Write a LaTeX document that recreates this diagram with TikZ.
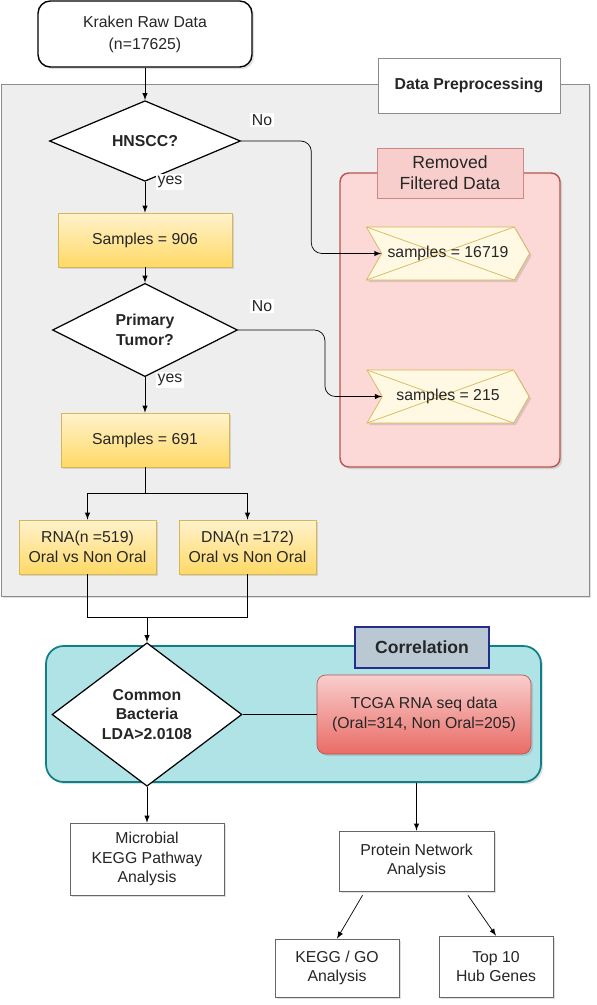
\documentclass[tikz,border=0pt]{standalone}
\usepackage{fontspec}
\setmainfont{Liberation Sans}
\usepackage{tikz}
\usetikzlibrary{shapes.geometric}
\usetikzlibrary{shapes.symbols}
\usetikzlibrary{shadows}
\usetikzlibrary{arrows}
\definecolor{Pre-fill}{RGB}{238,238,238}
\definecolor{Pre-line}{RGB}{140,140,140}
\definecolor{Yel-top}{RGB}{255,242,204}
\definecolor{Yel-bot}{RGB}{255,217,102}
\definecolor{Yel-line}{RGB}{214,182,86}
\definecolor{Cream}{RGB}{255,249,228}
\definecolor{Red-fill}{RGB}{252,216,214}
\definecolor{Red-top}{RGB}{248,206,204}
\definecolor{Red-bot}{RGB}{234,107,102}
\definecolor{Red-line}{RGB}{184,84,80}
\definecolor{Teal-fill}{RGB}{176,227,230}
\definecolor{Teal-line}{RGB}{14,128,136}
\definecolor{Slate-fill}{RGB}{186,200,211}
\definecolor{Navy-line}{RGB}{35,45,140}
\tikzset{ txt/.style      ={font=\fontsize{9}{11}\selectfont, text=black!85, align=center} }
\tikzset{ soft/.style     ={drop shadow={shadow xshift=1.2pt, shadow yshift=-1.2pt, opacity=0.25}} }
\tikzset{ start/.style    ={draw=black, rounded corners=7pt, line width=0.8pt, fill=white, txt, font=\fontsize{9}{12.5}\selectfont, soft} }
\tikzset{ decide/.style   ={draw=black, diamond, line width=0.7pt, fill=white, inner sep=0.5pt, txt, font=\fontsize{9}{11}\selectfont\bfseries} }
\tikzset{ smp/.style      ={draw=Yel-line, top color=Yel-top, bottom color=Yel-bot, minimum height=1.08cm, txt, soft} }
\tikzset{ cut/.style      ={draw=Yel-line, signal, signal to=east, signal from=west, signal pointer angle=120, fill=Cream, minimum width=3.24cm, minimum height=1.06cm, txt, soft,
                            path picture={\draw[Yel-line] (path picture bounding box.north west) -- ([xshift=-0.31cm]path picture bounding box.south east);
                                          \draw[Yel-line] ([xshift=-0.31cm]path picture bounding box.north east) -- (path picture bounding box.south west);}} }
\tikzset{ result/.style   ={draw=black!60, fill=white, txt, soft} }
\tikzset{ tag/.style      ={fill=white, inner sep=1pt, txt} }
\tikzset{ pre_box/.style  ={draw=Pre-line, fill=Pre-fill, soft} }
\tikzset{ pre_tag/.style  ={draw=Pre-line, fill=white, txt, font=\fontsize{9}{11}\selectfont\bfseries} }
\tikzset{ rm_box/.style   ={draw=Red-line, fill=Red-fill, line width=0.8pt, rounded corners=5pt, soft} }
\tikzset{ rm_tag/.style   ={draw=Red-line!70, fill=Red-top, txt, font=\fontsize{10}{12}\selectfont} }
\tikzset{ cor_box/.style  ={draw=Teal-line, fill=Teal-fill, line width=1pt, rounded corners=10pt, soft} }
\tikzset{ cor_tag/.style  ={draw=Navy-line, fill=Slate-fill, line width=0.8pt, txt, font=\fontsize{10}{12}\selectfont\bfseries} }
\tikzset{ seq/.style      ={draw=Red-line, top color=Red-top, bottom color=Red-bot, rounded corners=5pt, txt, soft} }

\begin{document}
\begin{tikzpicture}[x=0.02cm, y=-0.02cm]
    \useasboundingbox (0,0) rectangle (597,1005);

    % groups
    \node[pre_box, minimum width=11.76cm, minimum height=10.24cm] (pre)     at (295, 340) {};
    \node[pre_tag, minimum width=3.64cm,  minimum height=1.10cm ] (pre_t)   at (469, 85.5) {Data Preprocessing};
    \node[rm_box,  minimum width=4.40cm,  minimum height=5.88cm ] (rm)      at (450, 320) {};
    \node[rm_tag,  minimum width=2.92cm,  minimum height=1.00cm ] (rm_t)    at (450, 173) {Removed\\Filtered Data};
    \node[cor_box, minimum width=9.90cm,  minimum height=2.72cm ] (cor)     at (293.5, 714) {};
    \node[cor_tag, minimum width=2.68cm,  minimum height=0.82cm ] (cor_t)   at (422, 647.5) {Correlation};

    % preprocessing
    \node[start,  minimum width=4.28cm, minimum height=1.32cm] (raw)     at (145, 34)  {Kraken Raw Data\\(n=17625)};
    \node[decide, minimum width=3.82cm, minimum height=1.24cm] (hnscc)   at (145, 141) {HNSCC?};
    \node[smp,    minimum width=3.48cm                       ] (smp_906) at (145, 240) {Samples = 906};
    \node[decide, minimum width=3.70cm, minimum height=1.32cm] (tumor)   at (145, 330) {Primary\\Tumor?};
    \node[smp,    minimum width=3.36cm                       ] (smp_691) at (145, 440) {Samples = 691};
    \node[smp,    minimum width=2.74cm                       ] (rna)     at (87.5, 547) {RNA(n =519)\\Oral vs Non Oral};
    \node[smp,    minimum width=2.74cm                       ] (dna)     at (247.5, 547) {DNA(n =172)\\Oral vs Non Oral};

    \node[cut] (rm_1) at (448, 253.5) {samples = 16719};
    \node[cut] (rm_2) at (448, 396.5) {samples = 215};

    \node[tag] (no_1)  at (262, 120) {No};
    \node[tag] (yes_1) at (170, 182) {yes};
    \node[tag] (no_2)  at (262, 306) {No};
    \node[tag] (yes_2) at (170, 380) {yes};

    \draw[->,>=latex] (raw) -- (hnscc);
    \draw[->,>=latex] (hnscc) -- (smp_906);
    \draw[->,>=latex] (smp_906) -- (tumor);
    \draw[->,>=latex] (tumor) -- (smp_691);
    \draw[->,>=latex, rounded corners=6pt] (hnscc.east) -| ([xshift=-1.4cm]rm_1.west) -- (rm_1.west);
    \draw[->,>=latex, rounded corners=6pt] (tumor.east) -| ([xshift=-1.14cm]rm_2.west) -- (rm_2.west);

    \coordinate (split) at (145, 493);
    \coordinate (merge) at (147, 617);
    \draw             (smp_691) -- (split);
    \draw[->,>=latex] (split) -| (rna);
    \draw[->,>=latex] (split) -| (dna);
    \draw             (rna) |- (merge);
    \draw             (dna) |- (merge);

    % correlation
    \node[decide, minimum width=3.80cm, minimum height=2.10cm] (bact) at (147, 714.5) {Common\\Bacteria\\LDA>2.0108};
    \node[seq,    minimum width=4.28cm, minimum height=1.58cm] (tcga) at (424, 714.5) {TCGA RNA seq data\\(Oral=314, Non Oral=205)};

    \draw[->,>=latex] (merge) -- (bact);
    \draw             (bact) -- (tcga);

    % analysis
    \node[result, minimum width=3.08cm, minimum height=1.44cm] (kegg_mb) at (147, 859)   {Microbial\\KEGG Pathway\\Analysis};
    \node[result, minimum width=3.10cm, minimum height=1.20cm] (prot)    at (416.5, 861) {Protein Network\\Analysis};
    \node[result, minimum width=2.48cm, minimum height=1.16cm] (kegg_go) at (337, 968)   {KEGG / GO\\Analysis};
    \node[result, minimum width=2.28cm, minimum height=1.22cm] (hub)     at (496, 966.5) {Top 10\\Hub Genes};

    \draw[->,>=latex] (bact) -- (kegg_mb);
    \draw[->,>=latex] (cor.south -| prot.north) -- (prot);
    \draw[->,>=latex] ([xshift=-1.08cm,yshift=-0.08cm]prot.south) -- (kegg_go.north);
    \draw[->,>=latex] ([xshift=1.03cm,yshift=-0.08cm]prot.south) -- (hub.north);
\end{tikzpicture}
\end{document}
